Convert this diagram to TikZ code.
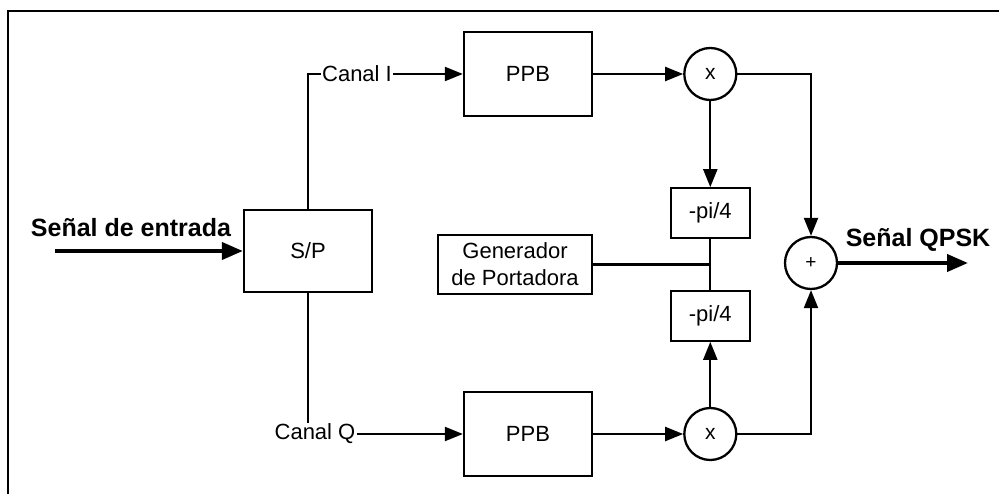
\documentclass[tikz,border=0pt]{standalone}
\usepackage{fontspec}
\setmainfont{Liberation Sans}
\usepackage{tikz}
\usetikzlibrary{arrows.meta, positioning, calc}
\tikzset{
  block/.style    = {rectangle, draw=black, line width=2.3pt, align=center,
                     inner sep=2pt, font=\fontsize{22}{27}\selectfont},
  ppbbox/.style   = {block, minimum width=128pt, minimum height=84pt},
  phasebox/.style = {block, minimum width=79pt, minimum height=50pt},
  genbox/.style   = {block, minimum width=154pt, minimum height=59pt},
  mixer/.style    = {circle, draw=black, line width=2.3pt, minimum size=52pt,
                     inner sep=0pt, font=\fontsize{21}{24}\selectfont},
  chanlab/.style  = {inner sep=1pt, font=\fontsize{22}{26}\selectfont},
  siglab/.style   = {inner sep=0pt, font=\fontsize{25}{29}\selectfont\bfseries},
  frame/.style    = {line width=2pt, draw=black},
  wire/.style     = {line width=2.2pt, draw=black},
  flow/.style     = {-{Triangle[length=18pt, width=14pt]}, line width=2.2pt, draw=black},
  bigflow/.style  = {-{Triangle[length=21pt, width=17pt]}, line width=4pt, draw=black},
}
\begin{document}
\begin{tikzpicture}[x=1pt, y=-1pt]
  \useasboundingbox (0,0) rectangle (999,494);
  \draw[frame] (8,494) |- (999,11);

  % serial / parallel split
  \node[block, minimum width=128pt, minimum height=82pt] (sp) at (308,251) {S/P};
  \coordinate (sigin) at (55,251);
  \node[siglab] (inlab) at (131,228) {Señal de entrada};

  % I and Q branches
  \node[ppbbox] (ppbi) at (528,74) {PPB};
  \node[ppbbox] (ppbq) at (528,434) {PPB};
  \node[chanlab] (canali) at (357,74) {Canal I};
  \node[chanlab] (canalq) at (315,434) {Canal Q};
  \node[mixer, right=90pt of ppbi] (multi) {x};
  \node[mixer, right=90pt of ppbq] (multq) {x};

  % carrier and phase shift
  \node[phasebox, below=86pt of multi] (phasei) {-pi/4};
  \node[phasebox, above=65pt of multq] (phaseq) {-pi/4};
  \node[genbox] (gen) at (515,264.5) {Generador\\de Portadora};

  % adder and output
  \node[mixer, font=\fontsize{19}{22}\selectfont] (sum) at (811,263) {+};
  \coordinate (sigout) at (968,263);
  \node[siglab] (outlab) at (918,240) {Señal QPSK};

  \draw[bigflow] (sigin) -- (sp);
  \draw[wire] (sp.north) |- (canali.west);
  \draw[flow] (canali.east) -- (ppbi.west);
  \draw[wire] (sp.south) -- (sp.south |- canalq.north);
  \draw[flow] (canalq.east) -- (ppbq.west);
  \draw[flow] (ppbi) -- (multi); \draw[flow] (ppbq) -- (multq);
  \draw[flow] (multi) -- (phasei); \draw[flow] (multq) -- (phaseq);
  \draw[wire] (phasei) -- (phaseq);
  \draw[wire] (gen) -- (gen -| phasei);
  \draw[flow] (multi) -| (sum); \draw[flow] (multq) -| (sum);
  \draw[bigflow] (sum) -- (sigout);
\end{tikzpicture}
\end{document}
